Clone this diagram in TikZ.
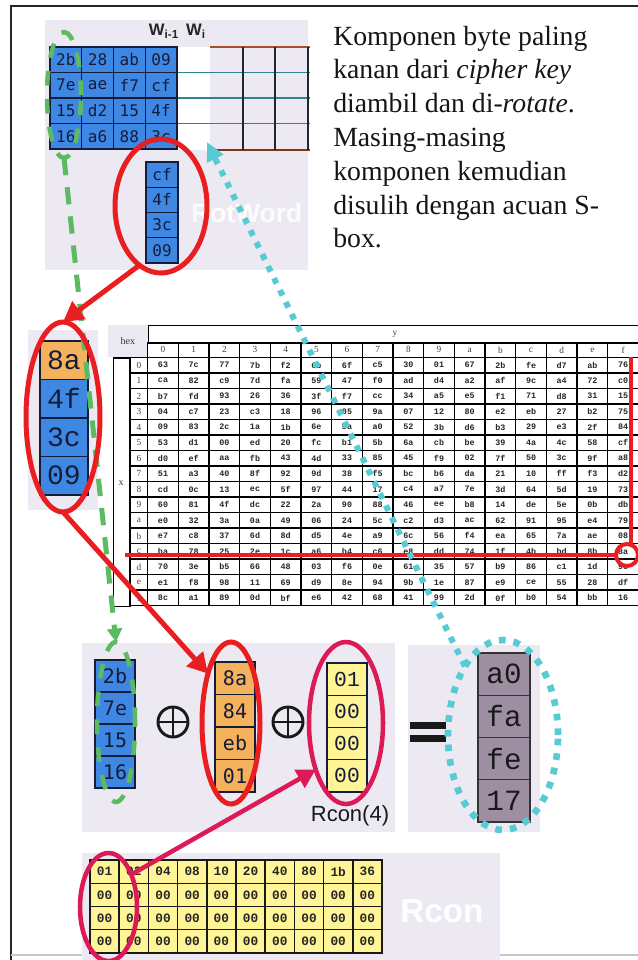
\documentclass[tikz,border=0pt]{standalone}
\usepackage{fontspec}
\setmainfont{Liberation Serif}
\setsansfont{Liberation Sans}
\newfontfamily\hexsans{DejaVu Sans Mono}
\newfontfamily\hexmono{Liberation Mono}
\usetikzlibrary{shapes.geometric,arrows.meta}

\definecolor{panelbg}{RGB}{237,233,243}
\definecolor{keyblue}{RGB}{62,136,228}
\definecolor{subor}{RGB}{245,178,92}
\definecolor{rconyel}{RGB}{255,244,150}
\definecolor{resmauve}{RGB}{158,142,162}
\definecolor{hexink}{RGB}{20,28,58}
\definecolor{markred}{RGB}{232,30,32}
\definecolor{markcrim}{RGB}{220,26,86}
\definecolor{markgreen}{RGB}{92,186,98}
\definecolor{markcyan}{RGB}{88,202,212}
\definecolor{gridteal}{RGB}{50,130,150}
\definecolor{gridbrown}{RGB}{170,80,40}
\definecolor{bodyink}{RGB}{25,20,20}

\begin{document}
\begin{tikzpicture}[x=0.75pt,y=-0.75pt,
  panel/.style={fill=panelbg,draw=none,inner sep=0pt,outer sep=0pt},
  wh/.style 2 args={minimum width=#1*0.75pt,minimum height=#2*0.75pt},
  bytecell/.style={draw=hexink,line width=1.1pt,inner sep=0pt,outer sep=0pt,text=hexink},
  sboxcell/.style={draw=black,line width=1.1pt,inner sep=0pt,outer sep=0pt,wh={30.67}{15.53},
    text=black!85,font=\hexmono\bfseries\fontsize{6.3}{7}\selectfont},
  sboxhead/.style={draw=black,line width=1.1pt,inner sep=0pt,outer sep=0pt,
    text=black!75,font=\fontsize{7}{8}\selectfont},
  bodyline/.style={anchor=base west,inner sep=0pt,text=bodyink,font=\fontsize{20.8}{25}\selectfont},
  ring/.style={ellipse,inner sep=0pt,outer sep=0pt,fill=none},
  redring/.style={ring,draw=markred,line width=3.75pt},
  crimring/.style={ring,draw=markcrim,line width=3.4pt},
  greenring/.style={ring,draw=markgreen,line width=3.4pt,dash pattern=on 11pt off 10pt},
  cyanring/.style={ring,draw=markcyan,line width=5pt,dash pattern=on 5pt off 6pt},
  redarrow/.style={draw=markred,line width=3.75pt,-{Triangle[length=15pt,width=16pt]}},
  crimarrow/.style={draw=markcrim,line width=3.4pt,-{Triangle[length=14pt,width=15pt]}},
  greenarrow/.style={draw=markgreen,line width=3.75pt,dash pattern=on 13pt off 9pt,
    -{Triangle[length=10pt,width=11pt]}},
  cyanarrow/.style={draw=markcyan,line width=4.5pt,dash pattern=on 4.5pt off 5.5pt,
    -{Triangle[length=14pt,width=13pt]}},
  xorsign/.style={circle,draw=black!90,line width=2.2pt,inner sep=0pt,outer sep=0pt,wh={30}{30}},
  watermark/.style={anchor=base west,inner sep=0pt,text=white,font=\sffamily\bfseries}
]
\useasboundingbox (0,0) rectangle (638,960);

% page frame
\draw[line width=2pt,black!85] (11,960) -- (11,6) -- (638,6);
\draw[line width=1.5pt,black!22] (11,955) -- (638,955);

% ---------- key schedule panel ----------
\node[panel,anchor=north west,wh={263}{250}] (keypanel) at (45,20) {};
\node[inner sep=0pt,font=\sffamily\bfseries\fontsize{12.5}{14}\selectfont,text=black!85] (wprev) at (164,31) {W\textsubscript{i-1}};
\node[inner sep=0pt,font=\sffamily\bfseries\fontsize{12.5}{14}\selectfont,text=black!85] (wcur) at (196,31) {W\textsubscript{i}};

\node[fill=white,draw=none,anchor=north west,inner sep=0pt,wh={33}{102.5}] (wicol) at (177,47) {};
\draw[gridbrown,line width=1.5pt] (210,47) -- (310,47);
\draw[gridbrown!70!black,line width=1.5pt] (210,149.5) -- (310,149.5);
\foreach \yy in {72.5,98,123.5} \draw[gridteal,line width=1.1pt] (177,\yy) -- (310,\yy);
\foreach \xx in {243,275,308} \draw[black!85,line width=1.3pt] (\xx,47) -- (\xx,149.5);

\foreach \vals [count=\r from 0] in {{2b,28,ab,09},{7e,ae,f7,cf},{15,d2,15,4f},{16,a6,88,3c}}{
  \foreach \v [count=\c from 0] in \vals {
    \node[bytecell,fill=keyblue,wh={31.75}{25.5},font=\hexsans\fontsize{12}{14}\selectfont]
      (k-\r-\c) at ({50+31.75*(\c+0.5)},{47+25.5*(\r+0.5)}) {\v};
  }
}

\node[watermark,text=white!85!panelbg,font=\sffamily\bfseries\fontsize{19.8}{22}\selectfont] (rotword) at (191,222) {RotWord};

\foreach \v [count=\r from 0] in {cf,4f,3c,09}{
  \node[bytecell,fill=keyblue,wh={32}{25.25},font=\hexsans\fontsize{12}{14}\selectfont]
    (rot-\r) at (162,{162+25.25*(\r+0.5)}) {\v};
}

% ---------- explanation ----------
\node[bodyline] (t1) at (333,45) {Komponen byte paling};
\node[bodyline] (t2) at (333,78.8) {kanan dari \textit{cipher key}};
\node[bodyline] (t3) at (333,112.6) {diambil dan di-\textit{rotate}.};
\node[bodyline] (t4) at (333,146.4) {Masing-masing};
\node[bodyline] (t5) at (333,180.2) {komponen kemudian};
\node[bodyline] (t6) at (333,214) {disulih dengan acuan S-};
\node[bodyline] (t7) at (333,247.8) {box.};

% ---------- rotated word after lookup ----------
\node[panel,anchor=north west,wh={70}{180}] (subpanel) at (28,330) {};
\foreach \v/\col [count=\r from 0] in {8a/subor,4f/keyblue,3c/keyblue,09/keyblue}{
  \node[bytecell,fill=\col,wh={48}{38.5},font=\hexmono\fontsize{21}{23}\selectfont]
    (sub-\r) at (64,{341+38.5*(\r+0.5)}) {\v};
}

% ---------- S-box ----------
\node[panel,anchor=north west,wh={39.7}{32.2},text=black!80,font=\fontsize{7.5}{8}\selectfont] (hexlab) at (108,325) {hex};
\node[draw=black,line width=1.1pt,anchor=north west,inner sep=0pt,wh={491}{17.5}] (yhead) at (147.7,325) {};
\node[inner sep=0pt,text=black!75,font=\fontsize{7}{8}\selectfont] (ylab) at (395,334) {y};
\node[draw=black,line width=1.1pt,anchor=north west,inner sep=0pt,wh={17.5}{248.8}] (xcol) at (112.5,357.2) {};
\node[inner sep=0pt,text=black!75,font=\fontsize{7.5}{8}\selectfont] (xlab) at (121,483) {x};

\foreach \h [count=\c from 0] in {0,1,2,3,4,5,6,7,8,9,a,b,c,d,e,f}{
  \node[sboxhead,wh={30.67}{14.7}] (ch-\c) at ({163+30.67*\c},349.9) {\h};
  \node[sboxhead,wh={17.7}{15.53}] (rh-\c) at (138.9,{365+15.53*\c}) {\h};
}

\foreach \rowvals [count=\r from 0] in {
  {63,7c,77,7b,f2,6b,6f,c5,30,01,67,2b,fe,d7,ab,76},
  {ca,82,c9,7d,fa,59,47,f0,ad,d4,a2,af,9c,a4,72,c0},
  {b7,fd,93,26,36,3f,f7,cc,34,a5,e5,f1,71,d8,31,15},
  {04,c7,23,c3,18,96,05,9a,07,12,80,e2,eb,27,b2,75},
  {09,83,2c,1a,1b,6e,5a,a0,52,3b,d6,b3,29,e3,2f,84},
  {53,d1,00,ed,20,fc,b1,5b,6a,cb,be,39,4a,4c,58,cf},
  {d0,ef,aa,fb,43,4d,33,85,45,f9,02,7f,50,3c,9f,a8},
  {51,a3,40,8f,92,9d,38,f5,bc,b6,da,21,10,ff,f3,d2},
  {cd,0c,13,ec,5f,97,44,17,c4,a7,7e,3d,64,5d,19,73},
  {60,81,4f,dc,22,2a,90,88,46,ee,b8,14,de,5e,0b,db},
  {e0,32,3a,0a,49,06,24,5c,c2,d3,ac,62,91,95,e4,79},
  {e7,c8,37,6d,8d,d5,4e,a9,6c,56,f4,ea,65,7a,ae,08},
  {ba,78,25,2e,1c,a6,b4,c6,e8,dd,74,1f,4b,bd,8b,8a},
  {70,3e,b5,66,48,03,f6,0e,61,35,57,b9,86,c1,1d,9e},
  {e1,f8,98,11,69,d9,8e,94,9b,1e,87,e9,ce,55,28,df},
  {8c,a1,89,0d,bf,e6,42,68,41,99,2d,0f,b0,54,bb,16}}{
  \foreach \v [count=\c from 0] in \rowvals {
    \node[sboxcell] (s-\r-\c) at ({163+30.67*\c},{365+15.53*\r}) {\v};
  }
}

% lookup of 8a: row c, column f
\node[circle,draw=markred,line width=3pt,inner sep=0pt,outer sep=0pt,wh={22}{22}] (sel) at (627,555) {};
\coordinate (vtop) at (631,357);
\coordinate (hleft) at (125,555);
\draw[markred,line width=3pt] (vtop) -- (vtop |- sel.north);
\draw[markred,line width=3pt] (hleft) -- (sel.west);

% ---------- XOR step ----------
\node[panel,anchor=north west,wh={313}{189}] (xorpanel) at (82,643) {};
\node[panel,anchor=north west,wh={132}{187}] (respanel) at (408,645) {};

\foreach \v [count=\r from 0] in {2b,7e,15,16}{
  \node[bytecell,fill=keyblue,wh={40}{32},font=\hexsans\fontsize{15}{17}\selectfont]
    (w-\r) at (115,{660+32*(\r+0.5)}) {\v};
}
\node[xorsign] (xor1) at (173,722) {};
\draw[black!90,line width=2.2pt] (xor1.north) -- (xor1.south) (xor1.west) -- (xor1.east);

\foreach \v [count=\r from 0] in {8a,84,eb,01}{
  \node[bytecell,fill=subor,wh={40}{32.5},font=\hexsans\fontsize{15}{17}\selectfont]
    (o-\r) at (235,{662+32.5*(\r+0.5)}) {\v};
}
\node[xorsign] (xor2) at (288,722) {};
\draw[black!90,line width=2.2pt] (xor2.north) -- (xor2.south) (xor2.west) -- (xor2.east);

\foreach \v [count=\r from 0] in {01,00,00,00}{
  \node[bytecell,fill=rconyel,wh={40}{32.25},font=\hexmono\fontsize{16}{18}\selectfont]
    (rc-\r) at (347,{663+32.25*(\r+0.5)}) {\v};
}
\node[inner sep=0pt,text=black!90,font=\sffamily\fontsize{16.5}{18}\selectfont] (rconlab) at (350,816) {Rcon(4)};

\node[fill=black!90,draw=none,inner sep=0pt,anchor=north west,wh={36}{7}] (eqtop) at (410,722) {};
\node[fill=black!90,draw=none,inner sep=0pt,anchor=north west,wh={36}{7}] (eqbot) at (410,735) {};

\foreach \v [count=\r from 0] in {a0,fa,fe,17}{
  \node[bytecell,draw=black!80,fill=resmauve,wh={52}{42.25},text=black!90,font=\hexmono\fontsize{22}{24}\selectfont]
    (res-\r) at (504,{653+42.25*(\r+0.5)}) {\v};
}

% ---------- Rcon table ----------
\node[panel,anchor=north west,wh={418}{107}] (rconpanel) at (82,853) {};
\node[watermark,font=\sffamily\bfseries\fontsize{25}{28}\selectfont] (rconmark) at (400,922) {Rcon};
\foreach \v [count=\c from 0] in {01,02,04,08,10,20,40,80,1b,36}{
  \foreach \r in {0,1,2,3}{
    \ifnum\r=0 \def\cellv{\v}\else\def\cellv{00}\fi
    \node[bytecell,draw=black!90,fill=rconyel,wh={29.2}{23.25},text=black!85,font=\hexmono\bfseries\fontsize{9.6}{11}\selectfont]
      (rt-\r-\c) at ({90+29.2*(\c+0.5)},{860+23.25*(\r+0.5)}) {\cellv};
  }
}

% ---------- markings ----------
\node[greenring,wh={34}{126}] (g1) at (64,95) {};
\node[greenring,wh={38}{160}] (g2) at (116,722) {};
\draw[greenarrow] (g1.south) -- (g2.north);

\node[redring,wh={92}{134}] (e1) at (161,206) {};
\node[redring,wh={74}{190}] (e2) at (63,417) {};
\node[redring,wh={58}{162}] (e3) at (231,723) {};
\draw[redarrow] (e1.250) -- (e2.north);
\draw[redarrow] (e2.south) -- (e3.115);

\node[crimring,wh={74}{162}] (e4) at (346,723) {};
\node[crimring,wh={57}{108}] (e5) at (108.5,907) {};
\draw[crimarrow] (e5.55) -- (e4.237);

\node[cyanring,wh={110}{190}] (c1) at (503,735) {};
\coordinate (wiend) at (207,142);
\draw[cyanarrow] (c1.119) -- (wiend);

\end{tikzpicture}
\end{document}
